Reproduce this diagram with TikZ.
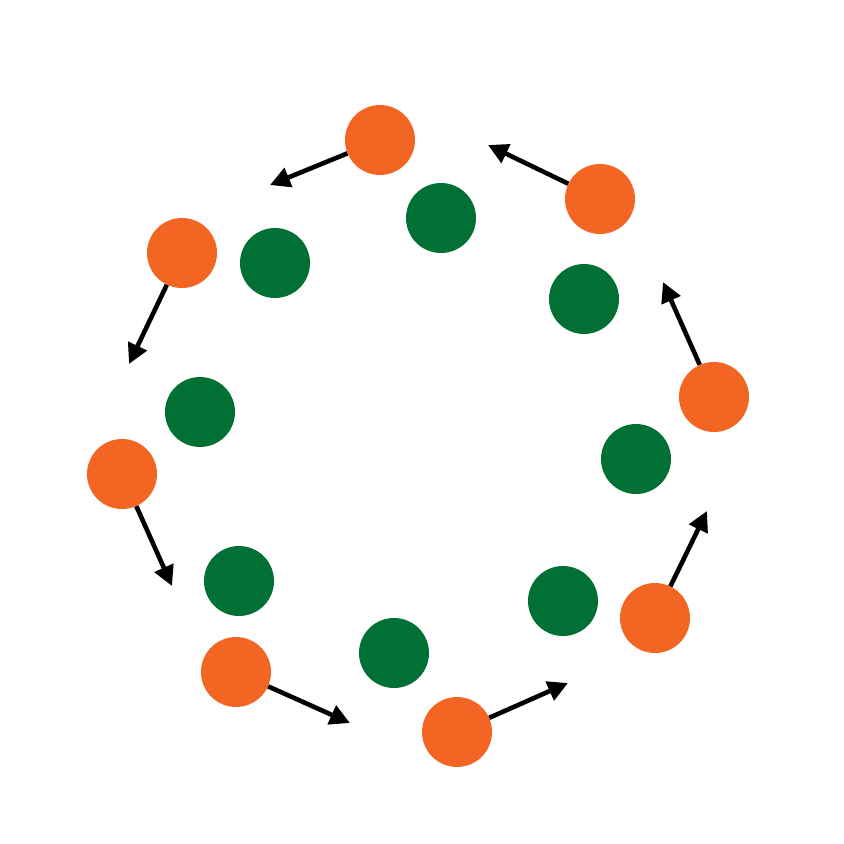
\documentclass[tikz,border=0pt]{standalone}
\usetikzlibrary{arrows.meta}
\definecolor{orng}{HTML}{F36523}
\definecolor{grn}{HTML}{007035}
\begin{document}
\begin{tikzpicture}[x=1pt,y=-1pt,
  obead/.style={circle,fill=orng,minimum size=70pt,inner sep=0pt},
  gbead/.style={circle,fill=grn,minimum size=70pt,inner sep=0pt},
  motion/.style={line width=4.6pt,-{Triangle[length=20pt,width=20pt]}}]
\useasboundingbox (0,0) rectangle (844,844);
\node[obead] (o1) at (380,140) {};
\node[obead] (o2) at (600,199) {};
\node[obead] (o3) at (714,397) {};
\node[obead] (o4) at (655,618) {};
\node[obead] (o5) at (457,732) {};
\node[obead] (o6) at (236,672) {};
\node[obead] (o7) at (122,474) {};
\node[obead] (o8) at (182,253) {};
\node[gbead] (g1) at (441,218) {};
\node[gbead] (g2) at (584,299) {};
\node[gbead] (g3) at (636,459) {};
\node[gbead] (g4) at (563,601) {};
\node[gbead] (g5) at (394,653) {};
\node[gbead] (g6) at (239,581) {};
\node[gbead] (g7) at (200,412) {};
\node[gbead] (g8) at (275,263) {};
\coordinate (a1) at (270,185);
\coordinate (a2) at (488,145);
\coordinate (a3) at (663,282);
\coordinate (a4) at (707,511);
\coordinate (a5) at (568,683);
\coordinate (a6) at (350,723);
\coordinate (a7) at (172,586);
\coordinate (a8) at (129,364);
\foreach \i in {1,...,8} \draw[motion] (o\i) -- (a\i);
\end{tikzpicture}
\end{document}
